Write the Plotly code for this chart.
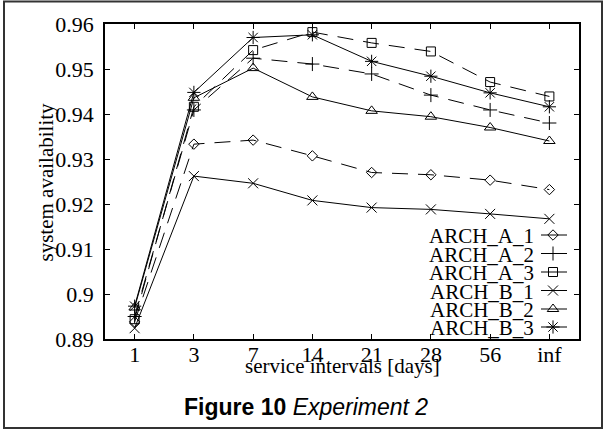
import plotly.graph_objects as go

categories = ["1", "3", "7", "14", "21", "28", "56", "inf"]
y_ticks = [0.89, 0.90, 0.91, 0.92, 0.93, 0.94, 0.95, 0.96]
y_tick_labels = ["0.89", "0.9", "0.91", "0.92", "0.93", "0.94", "0.95", "0.96"]

arch_a_1 = [0.8938, 0.9333, 0.9342, 0.9307, 0.9270, 0.9265, 0.9253, 0.9232]
arch_a_2 = [0.8950, 0.9409, 0.9524, 0.9511, 0.9489, 0.9442, 0.9409, 0.9380]
arch_a_3 = [0.8944, 0.9416, 0.9542, 0.9582, 0.9558, 0.9539, 0.9471, 0.9439]
arch_b_1 = [0.8924, 0.9262, 0.9246, 0.9208, 0.9192, 0.9188, 0.9178, 0.9167]
arch_b_2 = [0.8970, 0.9436, 0.9502, 0.9438, 0.9407, 0.9394, 0.9370, 0.9340]
arch_b_3 = [0.8973, 0.9448, 0.9570, 0.9576, 0.9517, 0.9484, 0.9447, 0.9416]

names = ["ARCH_A_1", "ARCH_A_2", "ARCH_A_3", "ARCH_B_1", "ARCH_B_2", "ARCH_B_3"]
series = [arch_a_1, arch_a_2, arch_a_3, arch_b_1, arch_b_2, arch_b_3]
symbols = ["diamond-open", "cross-thin-open", "square-open",
           "x-thin-open", "triangle-up-open", "asterisk-open"]
sizes = [8, 10, 9, 10, 10, 11]
dashes = ["16px,10px", "16px,10px", "16px,10px", "solid", "solid", "solid"]

W, H = 605, 430
PL, PR, PT, PB = 105, 579, 24, 339  # plot area in pixels

SERIF = "Liberation Serif, Times New Roman, serif"
SANS = "Liberation Sans, Arial, sans-serif"

fig = go.Figure()

for name, vals, sym, sz, dash in zip(names, series, symbols, sizes, dashes):
    fig.add_trace(go.Scatter(
        x=categories, y=vals, name=name, mode="lines+markers",
        line=dict(color="black", width=1, dash=dash),
        marker=dict(symbol=sym, size=sz, color="black",
                    line=dict(color="black", width=1)),
        xaxis="x", yaxis="y", showlegend=False,
    ))

# manual legend (pixel-space overlay axes)
leg_rows = [235, 253.5, 272, 290.5, 309, 327]
leg_text_right = 536
leg_line = (541, 567)
leg_marker_x = 553
for name, sym, sz, row in zip(names, symbols, sizes, leg_rows):
    fig.add_trace(go.Scatter(
        x=[leg_line[0], leg_line[1]], y=[row, row], mode="lines",
        line=dict(color="black", width=1), xaxis="x2", yaxis="y2",
        showlegend=False, hoverinfo="skip",
    ))
    fig.add_trace(go.Scatter(
        x=[leg_marker_x], y=[row], mode="markers",
        marker=dict(symbol=sym, size=sz, color="black",
                    line=dict(color="black", width=1)),
        xaxis="x2", yaxis="y2", showlegend=False, hoverinfo="skip",
    ))

annotations = []
for name, row in zip(names, leg_rows):
    annotations.append(dict(
        x=leg_text_right, y=row + 1, xref="x2", yref="y2", text=name,
        showarrow=False, xanchor="right", yanchor="middle",
        font=dict(family=SERIF, size=21, color="black"),
    ))

annotations.append(dict(
    x=(PL + PR) / 2, y=366, xref="x2", yref="y2",
    text="service intervals [days]", showarrow=False,
    xanchor="center", yanchor="middle",
    font=dict(family=SERIF, size=21, color="black"),
))
annotations.append(dict(
    x=45, y=(PT + PB) / 2 + 1, xref="x2", yref="y2",
    text="system availability", showarrow=False, textangle=-90,
    xanchor="center", yanchor="middle",
    font=dict(family=SERIF, size=21, color="black"),
))
annotations.append(dict(
    x=306, y=407, xref="x2", yref="y2",
    text="<b>Figure 10</b> <i>Experiment 2</i>", showarrow=False,
    xanchor="center", yanchor="middle",
    font=dict(family=SANS, size=23, color="black"),
))

shapes = [dict(
    type="rect", xref="x2", yref="y2", x0=4, x1=602, y0=1.5, y1=428,
    line=dict(color="#333333", width=2), fillcolor="rgba(0,0,0,0)",
    layer="above",
)]

fig.update_layout(
    width=W, height=H, autosize=False,
    margin=dict(l=0, r=0, t=0, b=0, pad=0, autoexpand=False),
    paper_bgcolor="white", plot_bgcolor="rgba(0,0,0,0)",
    showlegend=False,
    xaxis=dict(
        domain=[PL / W, PR / W], type="category", range=[-0.5, 7.5],
        tickmode="array", tickvals=categories, ticktext=categories,
        ticks="inside", ticklen=5, tickcolor="black", tickwidth=1,
        showline=True, linecolor="black", linewidth=1.5, mirror="ticks",
        showgrid=False, zeroline=False, ticklabelstandoff=-5,
        tickfont=dict(family=SERIF, size=22, color="black"),
        anchor="y", automargin=False,
    ),
    yaxis=dict(
        domain=[(H - PB) / H, (H - PT) / H], range=[0.89, 0.96],
        tickmode="array", tickvals=y_ticks, ticktext=y_tick_labels,
        ticks="inside", ticklen=5, tickcolor="black", tickwidth=1,
        showline=True, linecolor="black", linewidth=1.5, mirror="ticks",
        showgrid=False, zeroline=False, ticklabelstandoff=5,
        tickfont=dict(family=SERIF, size=22, color="black"),
        anchor="x", automargin=False,
    ),
    xaxis2=dict(domain=[0, 1], range=[0, W], visible=False, anchor="y2",
                fixedrange=True, automargin=False),
    yaxis2=dict(domain=[0, 1], range=[H, 0], visible=False, anchor="x2",
                fixedrange=True, automargin=False),
    annotations=annotations,
    shapes=shapes,
)

fig.write_html(
    "out.html",
    config={"displayModeBar": False, "responsive": False},
    post_script=(
        "document.body.style.margin='0';"
        "document.body.style.overflow='hidden';"
        "document.documentElement.style.overflow='hidden';"
    ),
)
